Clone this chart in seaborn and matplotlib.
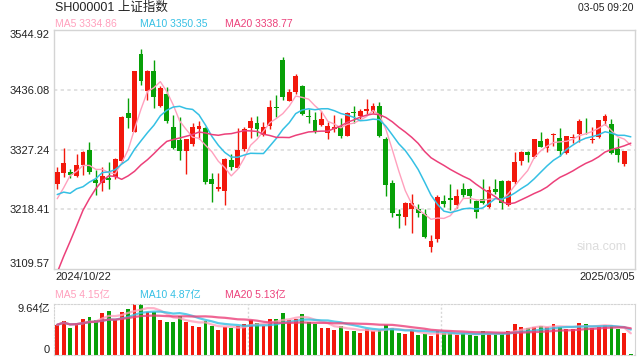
import numpy as np
import pandas as pd
import matplotlib
matplotlib.use("Agg")
import matplotlib.pyplot as plt
import seaborn as sns

# daily K-line of SH000001, 2024/10/22 .. 2025/03/05 (last bar = 09:20 pre-open)
title = "SH000001 上证指数"
stamp = "03-05 09:20"
first_date = "2024/10/22"
last_date = "2025/03/05"

open_ = [3264, 3285, 3286, 3279, 3299, 3327, 3272, 3267, 3276, 3277,
         3306, 3393, 3360, 3502, 3433, 3471, 3407, 3429, 3369, 3345,
         3325, 3338, 3364, 3367, 3274, 3256, 3251, 3308, 3294, 3329,
         3367, 3375, 3354, 3370, 3404, 3491, 3416, 3432, 3443, 3389,
         3381, 3371, 3357, 3365, 3368, 3352, 3395, 3389, 3398, 3396,
         3407, 3347, 3267, 3209, 3204, 3218, 3219, 3210, 3149, 3165,
         3234, 3238, 3227, 3256, 3256, 3234, 3237, 3223, 3256, 3270,
         3227, 3268, 3306, 3323, 3313, 3343, 3330, 3354.5, 3348, 3320,
         3349, 3356, 3374.5, 3345, 3350, 3379, 3374, 3329, 3300, 3324.21]
high = [3295, 3330, 3292, 3319, 3324, 3340, 3290, 3295, 3304, 3312,
        3388, 3421, 3471, 3510, 3472, 3490, 3443, 3442, 3390, 3386,
        3347, 3375, 3379, 3368, 3284, 3284, 3311, 3319, 3366, 3368,
        3386, 3389, 3377, 3418, 3427, 3496, 3438, 3465, 3444, 3401,
        3395, 3397, 3378, 3390, 3384, 3395, 3406, 3401, 3420, 3412,
        3414, 3350, 3272, 3219, 3231, 3246, 3228, 3219, 3172, 3245,
        3245, 3265, 3256, 3267, 3258, 3236, 3273, 3260, 3274, 3271,
        3272, 3322, 3325, 3324, 3347, 3360, 3348, 3357, 3366, 3352,
        3356, 3382, 3384, 3368, 3381, 3392, 3383, 3348, 3325, 3324.21]
low = [3255, 3277, 3275, 3277, 3280, 3283, 3245, 3252, 3255, 3274,
       3302, 3367, 3359, 3444, 3417, 3402, 3404, 3376, 3328, 3308,
       3283, 3333, 3347, 3264, 3232, 3252, 3226, 3290, 3293, 3324,
       3348, 3352, 3352, 3364, 3386, 3418, 3415, 3428, 3390, 3376,
       3357, 3370, 3346, 3360, 3348, 3351, 3375, 3381, 3392, 3393,
       3350, 3242, 3204, 3185, 3190, 3175, 3205, 3166, 3141, 3159,
       3222, 3217, 3220, 3240, 3229, 3202, 3228, 3221, 3246, 3219,
       3225, 3264, 3299, 3304, 3311, 3331, 3322, 3333, 3316, 3319,
       3339, 3340, 3356, 3339, 3349, 3372, 3319, 3304, 3298, 3324.21]
close = [3285.87, 3302.80, 3280.26, 3299.70, 3322.20, 3286.41, 3266.24, 3279.82, 3272.01, 3310.21,
         3386.99, 3383.81, 3470.07, 3452.30, 3470.66, 3421.97, 3439.28, 3379.84, 3330.73, 3323.85,
         3346.01, 3367.99, 3370.40, 3267.19, 3263.76, 3259.76, 3309.78, 3295.70, 3326.46, 3363.98,
         3378.81, 3364.65, 3368.86, 3404.08, 3402.53, 3422.66, 3432.49, 3461.50, 3391.88, 3386.33,
         3361.49, 3382.21, 3370.03, 3368.07, 3351.26, 3393.53, 3393.35, 3398.08, 3400.14, 3407.33,
         3351.76, 3262.56, 3211.43, 3206.92, 3229.64, 3230.17, 3211.39, 3168.52, 3160.76, 3240.94,
         3227.12, 3236.03, 3241.82, 3244.38, 3242.62, 3213.62, 3230.16, 3252.63, 3250.60, 3229.49,
         3270.66, 3303.67, 3322.17, 3318.06, 3346.39, 3332.48, 3346.72, 3355.83, 3324.49, 3351.54,
         3350.78, 3379.11, 3373.03, 3346.04, 3380.21, 3388.06, 3320.90, 3316.93, 3324.21, 3324.21]
# the 19 closes before 2024/10/22, only needed to start the moving averages
warmup_close = [2717.28, 2736.02, 2736.81, 2748.92, 2863.13, 2896.31, 3000.95, 3087.53,
                3336.50, 3489.78, 3258.86, 3301.93, 3217.74, 3284.32, 3201.29, 3202.95,
                3169.38, 3261.56, 3268.11]
# volume in 亿
volume = [5.72, 6.49, 5.15, 5.98, 6.74, 7.25, 6.68, 7.89, 8.40, 6.55,
          8.20, 8.78, 9.60, 9.64, 8.14, 8.08, 6.68, 6.30, 6.30, 7.44,
          6.17, 5.53, 5.34, 6.36, 5.41, 4.64, 5.22, 5.15, 5.41, 5.85,
          6.55, 5.98, 5.41, 6.87, 6.87, 7.89, 6.68, 6.87, 7.70, 6.23,
          5.85, 5.15, 5.15, 4.77, 5.53, 4.58, 4.58, 4.20, 4.90, 4.58,
          4.71, 5.60, 5.15, 4.20, 4.01, 4.64, 3.82, 4.01, 3.63, 4.45,
          4.13, 4.13, 3.82, 4.13, 3.82, 3.63, 4.58, 3.94, 3.94, 3.94,
          4.58, 5.91, 5.34, 5.09, 5.22, 5.41, 5.28, 5.91, 5.28, 4.90,
          4.96, 6.11, 5.91, 5.15, 5.34, 5.60, 5.60, 4.96, 4.20, 0.15]

price_ticks = [3109.57, 3218.41, 3327.24, 3436.08, 3544.92]
vol_max = 9.64

RED = "#f2180c"
GREEN = "#07a007"
C_MA5 = "#ffa0bd"
C_MA10 = "#35c0e4"
C_MA20 = "#ec407a"

df = pd.DataFrame({"o": open_, "h": high, "l": low, "c": close, "v": volume})
df["i"] = np.arange(len(df))
allc = pd.Series(warmup_close + close)
for n in (5, 10, 20):
    df[f"ma{n}"] = allc.rolling(n).mean().iloc[len(warmup_close):].values
    df[f"vma{n}"] = df["v"].rolling(n, min_periods=1).mean()
df["col"] = np.where(df["c"] > df["o"], RED, GREEN)

sns.set_style("white")
plt.rcParams["font.family"] = ["Liberation Sans", "Noto Sans CJK SC"]

W, H = 640, 360
fig = plt.figure(figsize=(6.4, 3.6), dpi=100)
ax = fig.add_axes([54 / W, 1 - 269 / H, 581 / W, 239 / H])
axv = fig.add_axes([54 / W, 1 - 355 / H, 581 / W, 51 / H])

# candles
ax.vlines(df["i"], df["l"], df["h"], colors=df["col"], lw=1, zorder=2)
body = (df["c"] - df["o"]).abs().clip(lower=1.2)
ax.bar(df["i"], body, bottom=df[["o", "c"]].min(axis=1), width=0.76,
       color=df["col"], linewidth=0, zorder=3)

sns.lineplot(data=df, x="i", y="ma5", ax=ax, color=C_MA5, lw=1.0, zorder=4)
sns.lineplot(data=df, x="i", y="ma10", ax=ax, color=C_MA10, lw=1.1, zorder=4)
sns.lineplot(data=df, x="i", y="ma20", ax=ax, color=C_MA20, lw=1.1, zorder=4)

ax.set_xlim(-0.5, 89.65)
ax.set_ylim(price_ticks[0], price_ticks[-1])
ax.set_yticks(price_ticks)
ax.set_yticklabels([f"{t:.2f}" for t in price_ticks])
ax.set_xticks([])
ax.set_xlabel("")
ax.set_ylabel("")
ax.tick_params(axis="y", length=0, pad=3, labelsize=8, labelcolor="#222222")
tl = ax.get_yticklabels()
tl[0].set_va("bottom")
tl[-1].set_va("top")
for t in price_ticks[1:-1]:
    ax.axhline(t, color="#dddddd", lw=1.2, ls=(0, (2, 2)), zorder=1)
for s in ax.spines.values():
    s.set_color("#d4d4d4")
    s.set_linewidth(1)

ax.text(0.985, 0.09, "sina.com", transform=ax.transAxes, ha="right", va="center",
        fontsize=9, color="#dcdcdc")

# volume
axv.bar(df["i"], df["v"], width=0.6, color=df["col"], linewidth=0, zorder=2)
sns.lineplot(data=df, x="i", y="vma5", ax=axv, color=C_MA5, lw=1.6, alpha=0.8, zorder=3)
sns.lineplot(data=df, x="i", y="vma10", ax=axv, color=C_MA10, lw=1.6, alpha=0.8, zorder=3)
sns.lineplot(data=df, x="i", y="vma20", ax=axv, color=C_MA20, lw=1.6, alpha=0.8, zorder=3)
axv.set_xlim(-0.5, 89.65)
axv.set_ylim(0, vol_max)
axv.set_yticks([0, vol_max])
axv.set_yticklabels(["0", f"{vol_max:.2f}亿"])
axv.set_xticks([])
axv.set_xlabel("")
axv.set_ylabel("")
axv.tick_params(axis="y", length=0, pad=3, labelsize=8, labelcolor="#222222")
vl = axv.get_yticklabels()
vl[0].set_va("bottom")
vl[-1].set_va("top")
for xf in (1 / 3, 2 / 3):
    axv.axvline(-0.5 + xf * 90.15, color="#d8d8d8", lw=1, ls=(0, (1.5, 1.5)), zorder=1)
for k in ("top", "bottom", "left"):
    axv.spines[k].set_color("#d4d4d4")
    axv.spines[k].set_linestyle((0, (1.5, 1.5)))
axv.spines["right"].set_color("#d4d4d4")

# header texts
fig.text(55 / W, 1 - 8 / H, title, fontsize=9, color="#222222", va="center")
fig.text(633 / W, 1 - 8 / H, stamp, fontsize=7.5, color="#222222", va="center", ha="right")
ma_now = df.iloc[-1]
for x, lab, col in ((55, f"MA5 {ma_now['ma5']:.2f}", C_MA5),
                    (140, f"MA10 {ma_now['ma10']:.2f}", C_MA10),
                    (225, f"MA20 {ma_now['ma20']:.2f}", C_MA20)):
    fig.text(x / W, 1 - 24 / H, lab, fontsize=7.5, color=col, va="center")
vma_labels = ("4.15亿", "4.87亿", "5.13亿")
for x, lab, col, v in zip((55, 140, 225), ("MA5", "MA10", "MA20"),
                          (C_MA5, C_MA10, C_MA20), vma_labels):
    fig.text(x / W, 1 - 295 / H, f"{lab} {v}", fontsize=7.5, color=col, va="center")
fig.text(55 / W, 1 - 277 / H, first_date, fontsize=8, color="#222222", va="center")
fig.text(635 / W, 1 - 277 / H, last_date, fontsize=8, color="#222222", va="center", ha="right")

fig.savefig("out.png", dpi=100)
